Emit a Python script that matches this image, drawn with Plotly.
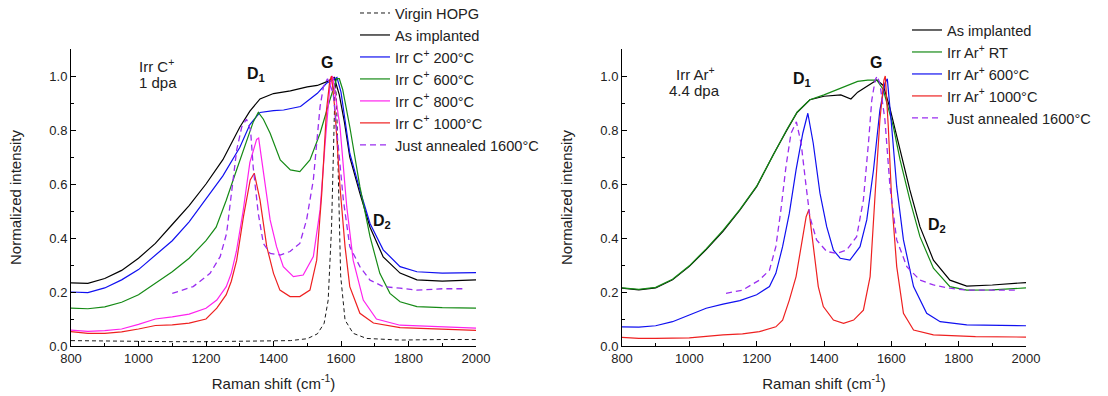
import plotly.graph_objects as go

# ---------------- Left panel (Irr C+, 1 dpa) ----------------
L_virgin_x = [800, 900, 1000, 1100, 1200, 1300, 1400, 1450, 1500, 1530, 1550, 1562, 1572, 1579, 1583, 1587, 1592, 1599, 1612, 1636, 1676, 1775, 1900, 2000]
L_virgin_y = [0.020, 0.018, 0.017, 0.016, 0.016, 0.017, 0.018, 0.020, 0.027, 0.045, 0.084, 0.17, 0.44, 0.81, 0.99, 0.90, 0.63, 0.26, 0.096, 0.047, 0.028, 0.022, 0.024, 0.024]

L_asimpl_x = [800, 850, 900, 950, 1000, 1050, 1100, 1150, 1200, 1250, 1300, 1330, 1360, 1400, 1450, 1500, 1530, 1560, 1580, 1595, 1610, 1626, 1656, 1686, 1725, 1775, 1825, 1900, 2000]
L_asimpl_y = [0.234, 0.232, 0.25, 0.28, 0.325, 0.38, 0.45, 0.52, 0.60, 0.69, 0.81, 0.87, 0.915, 0.935, 0.945, 0.96, 0.965, 0.98, 0.995, 0.93, 0.83, 0.70, 0.565, 0.44, 0.33, 0.27, 0.245, 0.24, 0.245]

L_c200_x = [800, 850, 900, 950, 1000, 1050, 1100, 1150, 1200, 1250, 1300, 1330, 1360, 1400, 1430, 1480, 1530, 1557, 1575, 1588, 1600, 1612, 1626, 1656, 1686, 1725, 1775, 1825, 1900, 2000]
L_c200_y = [0.20, 0.198, 0.215, 0.245, 0.283, 0.335, 0.39, 0.46, 0.545, 0.63, 0.735, 0.82, 0.865, 0.872, 0.874, 0.887, 0.936, 0.973, 0.985, 0.995, 0.94, 0.84, 0.714, 0.578, 0.454, 0.356, 0.294, 0.275, 0.27, 0.272]

L_c600_x = [800, 850, 900, 950, 1000, 1050, 1100, 1150, 1200, 1230, 1260, 1290, 1320, 1340, 1355, 1370, 1390, 1420, 1450, 1478, 1508, 1538, 1567, 1587, 1595, 1605, 1626, 1656, 1686, 1715, 1745, 1775, 1825, 1900, 2000]
L_c600_y = [0.14, 0.138, 0.145, 0.162, 0.19, 0.232, 0.275, 0.325, 0.39, 0.44, 0.54, 0.65, 0.76, 0.83, 0.865, 0.84, 0.788, 0.689, 0.652, 0.646, 0.689, 0.788, 0.911, 0.99, 0.99, 0.95, 0.812, 0.59, 0.405, 0.269, 0.195, 0.164, 0.146, 0.142, 0.14]

L_c800_x = [800, 850, 900, 950, 1000, 1050, 1100, 1150, 1200, 1232, 1260, 1275, 1290, 1310, 1330, 1350, 1356, 1370, 1390, 1409, 1429, 1459, 1488, 1518, 1538, 1553, 1567, 1575, 1587, 1597, 1617, 1636, 1666, 1705, 1775, 1900, 2000]
L_c800_y = [0.059, 0.054, 0.057, 0.063, 0.08, 0.10, 0.108, 0.118, 0.14, 0.17, 0.22, 0.27, 0.35, 0.50, 0.68, 0.765, 0.77, 0.652, 0.467, 0.368, 0.294, 0.257, 0.263, 0.331, 0.504, 0.751, 0.96, 1.0, 0.90, 0.812, 0.516, 0.318, 0.17, 0.10, 0.077, 0.07, 0.066]

L_c1000_x = [800, 850, 900, 950, 1000, 1050, 1100, 1150, 1200, 1232, 1260, 1275, 1291, 1311, 1331, 1343, 1360, 1380, 1400, 1419, 1449, 1478, 1508, 1528, 1543, 1557, 1567, 1572, 1582, 1597, 1612, 1626, 1656, 1696, 1775, 1900, 2000]
L_c1000_y = [0.053, 0.047, 0.047, 0.052, 0.063, 0.076, 0.078, 0.085, 0.10, 0.14, 0.19, 0.24, 0.318, 0.479, 0.615, 0.64, 0.541, 0.368, 0.269, 0.207, 0.183, 0.183, 0.207, 0.318, 0.565, 0.874, 0.985, 1.0, 0.874, 0.59, 0.368, 0.22, 0.121, 0.085, 0.068, 0.062, 0.058]

L_ann_x = [1100, 1162, 1212, 1242, 1261, 1276, 1291, 1306, 1320, 1332, 1340, 1355, 1370, 1390, 1420, 1449, 1478, 1498, 1518, 1528, 1538, 1548, 1560, 1577, 1592, 1607, 1626, 1656, 1686, 1725, 1775, 1824, 1900, 1970]
L_ann_y = [0.195, 0.22, 0.269, 0.331, 0.417, 0.566, 0.726, 0.812, 0.84, 0.80, 0.66, 0.49, 0.38, 0.343, 0.337, 0.35, 0.38, 0.467, 0.615, 0.751, 0.887, 0.96, 0.99, 0.936, 0.751, 0.541, 0.368, 0.294, 0.244, 0.22, 0.214, 0.207, 0.212, 0.212]

# ---------------- Right panel (Irr Ar+, 4.4 dpa) ----------------
R_asimpl_x = [800, 850, 900, 950, 1000, 1050, 1100, 1150, 1200, 1250, 1290, 1320, 1358, 1400, 1450, 1480, 1500, 1530, 1557, 1576, 1596, 1626, 1655, 1685, 1725, 1774, 1824, 1900, 2000]
R_asimpl_y = [0.214, 0.208, 0.215, 0.245, 0.295, 0.357, 0.425, 0.503, 0.59, 0.71, 0.80, 0.865, 0.912, 0.925, 0.93, 0.915, 0.94, 0.965, 0.985, 0.965, 0.88, 0.726, 0.578, 0.442, 0.318, 0.244, 0.222, 0.226, 0.235]

R_rt_x = [800, 850, 900, 950, 1000, 1050, 1100, 1150, 1200, 1250, 1290, 1320, 1358, 1400, 1450, 1500, 1530, 1557, 1576, 1596, 1606, 1626, 1655, 1685, 1725, 1774, 1824, 1900, 2000]
R_rt_y = [0.215, 0.21, 0.217, 0.247, 0.297, 0.36, 0.428, 0.505, 0.592, 0.712, 0.803, 0.866, 0.912, 0.93, 0.955, 0.98, 0.985, 0.985, 0.95, 0.86, 0.812, 0.689, 0.541, 0.405, 0.288, 0.22, 0.207, 0.208, 0.215]

R_a600_x = [800, 850, 900, 950, 1000, 1050, 1100, 1150, 1200, 1238, 1257, 1277, 1297, 1317, 1337, 1352, 1368, 1388, 1408, 1428, 1448, 1477, 1507, 1527, 1547, 1566, 1581, 1588, 1601, 1616, 1636, 1666, 1705, 1745, 1824, 1922, 2000]
R_a600_y = [0.071, 0.07, 0.075, 0.09, 0.115, 0.14, 0.155, 0.168, 0.19, 0.22, 0.269, 0.368, 0.491, 0.652, 0.788, 0.862, 0.751, 0.566, 0.442, 0.355, 0.325, 0.318, 0.368, 0.467, 0.652, 0.874, 0.973, 0.99, 0.812, 0.59, 0.393, 0.22, 0.121, 0.09, 0.078, 0.076, 0.075]

R_a1000_x = [800, 850, 900, 1000, 1100, 1158, 1208, 1257, 1277, 1297, 1317, 1332, 1347, 1355, 1368, 1383, 1398, 1428, 1458, 1488, 1517, 1537, 1552, 1566, 1578, 1582, 1591, 1601, 1616, 1636, 1666, 1725, 1850, 2000]
R_a1000_y = [0.032, 0.028, 0.028, 0.03, 0.041, 0.045, 0.053, 0.071, 0.096, 0.17, 0.257, 0.368, 0.479, 0.505, 0.368, 0.22, 0.146, 0.096, 0.084, 0.096, 0.133, 0.257, 0.566, 0.837, 0.985, 1.0, 0.812, 0.541, 0.294, 0.121, 0.059, 0.041, 0.035, 0.033]

R_ann_x = [1109, 1158, 1208, 1238, 1257, 1272, 1287, 1302, 1318, 1332, 1347, 1358, 1378, 1408, 1438, 1467, 1497, 1517, 1532, 1542, 1552, 1558, 1566, 1581, 1596, 1616, 1646, 1685, 1725, 1774, 1824, 1900, 1975]
R_ann_y = [0.195, 0.207, 0.244, 0.281, 0.368, 0.504, 0.664, 0.788, 0.83, 0.751, 0.59, 0.479, 0.393, 0.35, 0.343, 0.355, 0.405, 0.541, 0.751, 0.911, 0.985, 1.0, 0.973, 0.837, 0.59, 0.393, 0.294, 0.244, 0.226, 0.214, 0.207, 0.207, 0.207]

X_TICKS = [800, 1000, 1200, 1400, 1600, 1800, 2000]
Y_TICKS = [0.0, 0.2, 0.4, 0.6, 0.8, 1.0]
Y_TICK_LABELS = ["0.0", "0.2", "0.4", "0.6", "0.8", "1.0"]

FONT = "Arial, Liberation Sans, sans-serif"
BLACK = "#000000"
BLUE = "#1010f0"
GREEN = "#158a15"
MAGENTA = "#ff22ee"
RED = "#ee2020"
PURPLE = "#9a2ef0"
TXT = "#222222"

W, H = 1108, 396

def px_x(p):
    return p / W

def px_y(p):
    return 1 - p / H

fig = go.Figure()

left = [
    ("Virgin HOPG", L_virgin_x, L_virgin_y, BLACK, "4px,3px", 0.9),
    ("As implanted", L_asimpl_x, L_asimpl_y, BLACK, "solid", 1.2),
    ("Irr C<sup>+</sup> 200°C", L_c200_x, L_c200_y, BLUE, "solid", 1.2),
    ("Irr C<sup>+</sup> 600°C", L_c600_x, L_c600_y, GREEN, "solid", 1.2),
    ("Irr C<sup>+</sup> 800°C", L_c800_x, L_c800_y, MAGENTA, "solid", 1.2),
    ("Irr C<sup>+</sup> 1000°C", L_c1000_x, L_c1000_y, RED, "solid", 1.2),
    ("Just annealed 1600°C", L_ann_x, L_ann_y, PURPLE, "6px,4px", 1.3),
]
for name, xs, ys, col, dash, w in left:
    fig.add_trace(go.Scatter(x=xs, y=ys, mode="lines", name=name,
                             line=dict(color=col, dash=dash, width=w),
                             xaxis="x", yaxis="y", legend="legend"))

right = [
    ("As implanted", R_asimpl_x, R_asimpl_y, BLACK, "solid", 1.2),
    ("Irr Ar<sup>+</sup> RT", R_rt_x, R_rt_y, GREEN, "solid", 1.2),
    ("Irr Ar<sup>+</sup> 600°C", R_a600_x, R_a600_y, BLUE, "solid", 1.2),
    ("Irr Ar<sup>+</sup> 1000°C", R_a1000_x, R_a1000_y, RED, "solid", 1.2),
    ("Just annealed 1600°C", R_ann_x, R_ann_y, PURPLE, "6px,4px", 1.3),
]
for name, xs, ys, col, dash, w in right:
    fig.add_trace(go.Scatter(x=xs, y=ys, mode="lines", name=name,
                             line=dict(color=col, dash=dash, width=w),
                             xaxis="x2", yaxis="y2", legend="legend2"))

xaxis_common = dict(range=[800, 2000], tickvals=X_TICKS, ticks="inside", ticklen=5,
                    tickcolor="black", showline=True, linecolor="black", linewidth=1,
                    showgrid=False, zeroline=False, mirror=False, automargin=False,
                    minor=dict(dtick=100, tick0=800, ticks="inside", ticklen=3, tickcolor="black", showgrid=False),
                    tickfont=dict(family=FONT, size=13, color=TXT),
                    title=dict(text="Raman shift (cm<sup>-1</sup>)", font=dict(family=FONT, size=15, color=TXT), standoff=13))
yaxis_common = dict(range=[0, 1.1], tickvals=Y_TICKS, ticktext=Y_TICK_LABELS, ticks="inside", ticklen=5,
                    tickcolor="black", showline=True, linecolor="black", linewidth=1,
                    showgrid=False, zeroline=False, mirror=False, automargin=False,
                    minor=dict(dtick=0.1, tick0=0, ticks="inside", ticklen=3, tickcolor="black", showgrid=False),
                    tickfont=dict(family=FONT, size=13, color=TXT),
                    title=dict(text="Normalized intensity", font=dict(family=FONT, size=15, color=TXT), standoff=24))

LEG_FONT = dict(family=FONT, size=14.6, color=TXT)
yd = [px_y(346), px_y(49)]
fig.update_layout(
    width=W, height=H,
    margin=dict(l=0, r=0, t=0, b=0, autoexpand=False),
    paper_bgcolor="white", plot_bgcolor="white",
    font=dict(family=FONT, size=15, color=TXT),
    xaxis=dict(domain=[px_x(71), px_x(476)], anchor="y", **xaxis_common),
    yaxis=dict(domain=yd, anchor="x", **yaxis_common),
    xaxis2=dict(domain=[px_x(622), px_x(1026)], anchor="y2", **xaxis_common),
    yaxis2=dict(domain=yd, anchor="x2", **yaxis_common),
    legend=dict(x=px_x(355), y=px_y(-3), xanchor="left", yanchor="top",
                bgcolor="rgba(0,0,0,0)", font=LEG_FONT, tracegroupgap=0, itemwidth=30),
    legend2=dict(x=px_x(907), y=px_y(14), xanchor="left", yanchor="top",
                 bgcolor="rgba(0,0,0,0)", font=LEG_FONT, tracegroupgap=0, itemwidth=30),
    showlegend=True,
)

ann_font = dict(family=FONT, size=15, color=TXT)
bold_font = dict(family=FONT, size=16, color="#111")
annotations = [
    dict(x=px_x(137), y=px_y(65), text="Irr C<sup>+</sup>", xanchor="left", yanchor="middle", font=ann_font),
    dict(x=px_x(137), y=px_y(83), text="1 dpa", xanchor="left", yanchor="middle", font=ann_font),
    dict(x=px_x(256), y=px_y(74), text="<b>D<sub>1</sub></b>", xanchor="center", yanchor="middle", font=bold_font),
    dict(x=px_x(327), y=px_y(63), text="<b>G</b>", xanchor="center", yanchor="middle", font=bold_font),
    dict(x=px_x(382), y=px_y(222), text="<b>D<sub>2</sub></b>", xanchor="center", yanchor="middle", font=bold_font),
    dict(x=px_x(695), y=px_y(73), text="Irr Ar<sup>+</sup>", xanchor="center", yanchor="middle", font=ann_font),
    dict(x=px_x(694), y=px_y(90), text="4.4 dpa", xanchor="center", yanchor="middle", font=ann_font),
    dict(x=px_x(802), y=px_y(79), text="<b>D<sub>1</sub></b>", xanchor="center", yanchor="middle", font=bold_font),
    dict(x=px_x(876), y=px_y(63), text="<b>G</b>", xanchor="center", yanchor="middle", font=bold_font),
    dict(x=px_x(937), y=px_y(225), text="<b>D<sub>2</sub></b>", xanchor="center", yanchor="middle", font=bold_font),
]
for a in annotations:
    a.update(xref="paper", yref="paper", showarrow=False)
fig.update_layout(annotations=annotations)

fig.write_html("out.html")
